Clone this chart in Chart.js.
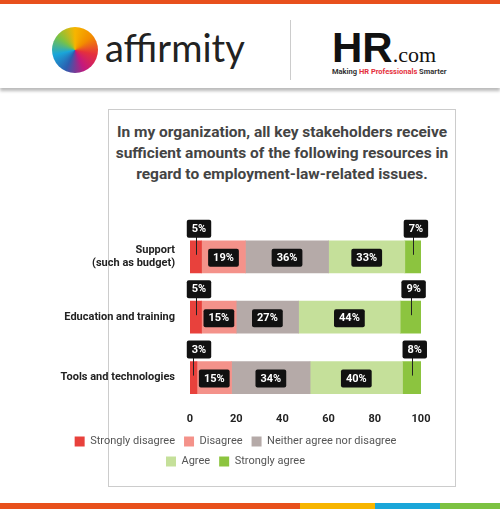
<!DOCTYPE html>
<html><head><meta charset="utf-8">
<script src="https://cdn.jsdelivr.net/npm/chart.js@4"></script>
<style>
body{margin:0;width:500px;height:509px;position:relative;background:#fff;font-family:Roboto,sans-serif;overflow:hidden}
#top{position:absolute;left:0;top:0;width:500px;height:4px;background:#e8501c}
#hdr{position:absolute;left:0;top:4px;width:500px;height:84px;background:#fff;box-shadow:0 3px 3px #bbb}
#sep{position:absolute;left:290px;top:16px;width:1px;height:60px;background:#ccc}
#aff{position:absolute;left:105px;top:20px;font-size:38px;color:#222;font-family:Lato,sans-serif}
#logo{position:absolute;left:52px;top:23px;width:46px;height:46px;border-radius:50%;background:conic-gradient(#f7b500,#f28c00,#e5303c,#c4187d,#2a5fb0,#1aa6d9,#7cc242,#f7b500)}
#hr{position:absolute;left:332px;top:20px;font-size:42px;font-weight:900;color:#111;font-family:'Liberation Sans'}
#hr span{font-size:22px;font-weight:normal;font-family:'Liberation Serif'}
#tag{position:absolute;left:332px;top:63px;font-size:7.5px;font-weight:bold;color:#333}
#card{position:absolute;left:108px;top:109px;width:346px;height:376px;border:1px solid #ccc}
#title{position:absolute;left:110px;top:122px;width:344px;text-align:center;font-weight:bold;font-size:15.5px;line-height:21px;color:#444}
#bot{position:absolute;left:0;top:503px;width:500px;height:6px;background:linear-gradient(90deg,#e8501c 0 60%,#f7b500 60% 75%,#1aa6d9 75% 88%,#7cc242 88%)}
#wrap{position:absolute;left:50px;top:213px;width:400px;height:264px}
</style></head><body>
<div id="top"></div><div id="hdr"><div id="logo"></div><div id="aff">affirmity</div><div id="sep"></div><div id="hr">HR<span>.com</span></div><div id="tag">Making <span style="color:#e5303c">HR Professionals</span> Smarter</div></div>
<div id="card"></div>
<div id="title">In my organization, all key stakeholders receive sufficient amounts of the following resources in regard to employment-law-related issues.</div>
<div id="wrap"><canvas id="c"></canvas></div>
<div id="bot"></div>
<script>
const categories=[["Support","(such as budget)"],"Education and training","Tools and technologies"];
const seriesNames=["Strongly disagree","Disagree","Neither agree nor disagree","Agree","Strongly agree"];
const stronglyDisagree=[5,5,3];
const disagree=[19,15,15];
const neither=[36,27,34];
const agree=[33,44,40];
const stronglyAgree=[7,9,8];
const xTicks=[0,20,40,60,80,100];
const colors=["#e8413c","#f4928a","#b5aaa8","#c5e09a","#8cc43f"];
const vals=[stronglyDisagree,disagree,neither,agree,stronglyAgree];
const outside=[0,4];
const labelPlugin={id:'lbl',afterDatasetsDraw(ch){
 const ctx=ch.ctx;ctx.save();ctx.font='bold 11px Roboto';ctx.textAlign='center';ctx.textBaseline='middle';
 ch.data.datasets.forEach((ds,di)=>{ch.getDatasetMeta(di).data.forEach((b,i)=>{
  const t=ds.data[i]+'%';const w=ctx.measureText(t).width+10,h=18;
  let cx,cy;
  if(outside.includes(di)){cx=di===0?b.base+9:b.x-(b.x-b.base)/2+3;cy=b.y-b.height/2-12;
   ctx.strokeStyle='#222';ctx.lineWidth=1;ctx.beginPath();ctx.moveTo(Math.round((b.x+b.base)/2)+0.5,cy);ctx.lineTo(Math.round((b.x+b.base)/2)+0.5,b.y-2);ctx.stroke();}
  else{cx=(b.x+b.base)/2;cy=b.y+1;}
  ctx.fillStyle='#111';ctx.beginPath();ctx.roundRect(cx-w/2,cy-h/2,w,h,2);ctx.fill();
  ctx.fillStyle='#fff';ctx.fillText(t,cx,cy+0.5);
 });});ctx.restore();}};
new Chart(document.getElementById('c'),{type:'bar',
data:{labels:categories,datasets:seriesNames.map((n,k)=>({label:n,data:vals[k],backgroundColor:colors[k],barThickness:32}))},
options:{indexAxis:'y',responsive:true,maintainAspectRatio:false,animation:false,
layout:{padding:{top:12,right:29}},
scales:{x:{stacked:true,min:0,max:100,afterBuildTicks(s){s.ticks=xTicks.map(v=>({value:v}));},
 grid:{display:false,drawTicks:true,tickLength:4,tickColor:'#333'},border:{color:'transparent'},
 ticks:{font:{family:'Roboto',size:11,weight:'bold'},color:'#222',padding:1}},
 y:{stacked:true,grid:{display:false},border:{display:false},afterFit(s){s.width=140;},
 ticks:{font:{family:'Roboto',size:11,weight:'bold'},color:'#222',padding:7}}},
plugins:{tooltip:{enabled:false},legend:{position:'bottom',labels:{boxWidth:10,boxHeight:10,font:{family:'Roboto',size:11},color:'#555',padding:9}}}},
plugins:[labelPlugin]});
</script></body></html>
